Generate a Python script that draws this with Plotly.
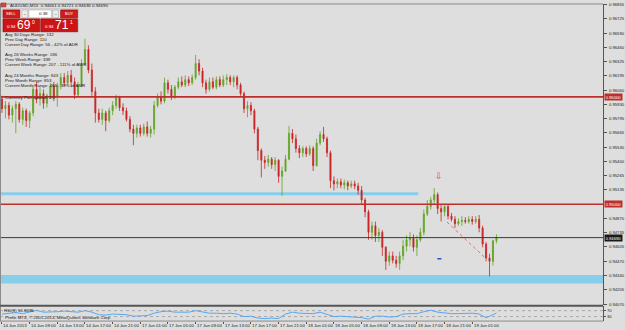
import plotly.graph_objects as go

W, H = 625, 330

# ---------------- data ----------------
time_labels = ["14 Jun 2013", "14 Jun 09:00", "14 Jun 13:00", "14 Jun 17:00", "14 Jun 21:00",
               "17 Jun 01:00", "17 Jun 05:00", "17 Jun 09:00", "17 Jun 13:00", "17 Jun 17:00",
               "17 Jun 21:00", "18 Jun 01:00", "18 Jun 05:00", "18 Jun 09:00", "18 Jun 13:00",
               "18 Jun 17:00", "18 Jun 21:00", "19 Jun 01:00"]
label_bars = [0, 8, 16, 24, 32, 40, 48, 56, 64, 72, 80, 88, 96, 104, 112, 120, 128, 136]

opens = [0.9598, 0.9589, 0.9592, 0.9583, 0.9589, 0.9593, 0.9579, 0.9587, 0.9578, 0.9585,
         0.9607, 0.9598, 0.9603, 0.9594, 0.9601, 0.9610, 0.9600, 0.9611, 0.9618, 0.9613,
         0.9620, 0.9614, 0.9602, 0.9611, 0.9631, 0.9644, 0.9625, 0.9605, 0.9585, 0.9579,
         0.9585, 0.9578, 0.9587, 0.9592, 0.9599, 0.9590, 0.9587, 0.9579, 0.9570, 0.9566,
         0.9571, 0.9566, 0.9572, 0.9566, 0.9570, 0.9592, 0.9600, 0.9596, 0.9613, 0.9607,
         0.9600, 0.9609, 0.9614, 0.9611, 0.9616, 0.9613, 0.9618, 0.9631, 0.9624, 0.9613,
         0.9607, 0.9614, 0.9609, 0.9616, 0.9611, 0.9616, 0.9618, 0.9614, 0.9618, 0.9611,
         0.9603, 0.9589, 0.9592, 0.9587, 0.9570, 0.9550, 0.9541, 0.9539, 0.9542, 0.9537,
         0.9541, 0.9526, 0.9531, 0.9542, 0.9566, 0.9561, 0.9552, 0.9548, 0.9552, 0.9547,
         0.9552, 0.9536, 0.9557, 0.9565, 0.9561, 0.9548, 0.9522, 0.9519, 0.9521, 0.9518,
         0.9520, 0.9517, 0.9519, 0.9517, 0.9513, 0.9504, 0.9493, 0.9474, 0.9480, 0.9471,
         0.9474, 0.9460, 0.9447, 0.9452, 0.9448, 0.9445, 0.9452, 0.9461, 0.9467, 0.9469,
         0.9460, 0.9467, 0.9474, 0.9491, 0.9498, 0.9504, 0.9509, 0.9496, 0.9493, 0.9498,
         0.9489, 0.9486, 0.9482, 0.9484, 0.9485, 0.9484, 0.9486, 0.9484, 0.9486, 0.9478,
         0.9463, 0.9450, 0.9447, 0.94661]
highs = [0.9601, 0.9596, 0.9595, 0.9592, 0.9596, 0.9595, 0.9590, 0.9589, 0.9587, 0.9611,
         0.9614, 0.9609, 0.9607, 0.9603, 0.9613, 0.9614, 0.9613, 0.9622, 0.9622, 0.9624,
         0.9625, 0.9618, 0.9614, 0.9635, 0.9654, 0.9648, 0.9631, 0.9609, 0.9589, 0.9589,
         0.9587, 0.9590, 0.9596, 0.9602, 0.9601, 0.9594, 0.9590, 0.9582, 0.9574, 0.9574,
         0.9574, 0.9575, 0.9577, 0.9573, 0.9596, 0.9603, 0.9605, 0.9618, 0.9616, 0.9611,
         0.9611, 0.9618, 0.9619, 0.9620, 0.9619, 0.9621, 0.9639, 0.9635, 0.9627, 0.9616,
         0.9618, 0.9618, 0.9619, 0.9619, 0.9620, 0.9621, 0.9620, 0.9620, 0.9620, 0.9613,
         0.9605, 0.9596, 0.9595, 0.9589, 0.9572, 0.9552, 0.9545, 0.9546, 0.9544, 0.9544,
         0.9542, 0.9535, 0.9546, 0.9573, 0.9570, 0.9565, 0.9555, 0.9554, 0.9554, 0.9555,
         0.9554, 0.9561, 0.9568, 0.9572, 0.9563, 0.9550, 0.9526, 0.9524, 0.9524, 0.9523,
         0.9522, 0.9522, 0.9522, 0.9520, 0.9517, 0.9506, 0.9495, 0.9484, 0.9484, 0.9478,
         0.9476, 0.9461, 0.9456, 0.9456, 0.9452, 0.9456, 0.9467, 0.9471, 0.9474, 0.9472,
         0.9471, 0.9478, 0.9495, 0.9504, 0.9507, 0.9515, 0.9511, 0.9500, 0.9500, 0.9500,
         0.9492, 0.9489, 0.9487, 0.9489, 0.9488, 0.9489, 0.9489, 0.9489, 0.9490, 0.9480,
         0.9465, 0.9454, 0.9467, 0.94721]
lows = [0.9585, 0.9580, 0.9579, 0.9576, 0.9566, 0.9576, 0.9574, 0.9572, 0.9571, 0.9582,
        0.9594, 0.9592, 0.9589, 0.9590, 0.9598, 0.9596, 0.9591, 0.9607, 0.9610, 0.9611,
        0.9609, 0.9598, 0.9600, 0.9609, 0.9629, 0.9622, 0.9601, 0.9576, 0.9576, 0.9574,
        0.9568, 0.9576, 0.9583, 0.9589, 0.9587, 0.9583, 0.9577, 0.9567, 0.9555, 0.9562,
        0.9563, 0.9564, 0.9563, 0.9562, 0.9565, 0.9590, 0.9593, 0.9594, 0.9603, 0.9597,
        0.9598, 0.9607, 0.9609, 0.9609, 0.9610, 0.9611, 0.9616, 0.9620, 0.9609, 0.9603,
        0.9605, 0.9607, 0.9607, 0.9609, 0.9609, 0.9611, 0.9611, 0.9609, 0.9607, 0.9601,
        0.9585, 0.9581, 0.9583, 0.9566, 0.9541, 0.9525, 0.9533, 0.9535, 0.9533, 0.9531,
        0.9520, 0.9508, 0.9530, 0.9541, 0.9557, 0.9548, 0.9543, 0.9544, 0.9544, 0.9545,
        0.9531, 0.9535, 0.9555, 0.9558, 0.9544, 0.9515, 0.9513, 0.9515, 0.9515, 0.9514,
        0.9513, 0.9515, 0.9514, 0.9509, 0.9500, 0.9488, 0.9467, 0.9467, 0.9465, 0.9465,
        0.9452, 0.9439, 0.9443, 0.9445, 0.9441, 0.9439, 0.9448, 0.9456, 0.9461, 0.9456,
        0.9452, 0.9465, 0.9471, 0.9489, 0.9495, 0.9500, 0.9491, 0.9484, 0.9489, 0.9486,
        0.9484, 0.9478, 0.9480, 0.9480, 0.9482, 0.9482, 0.9481, 0.9482, 0.9474, 0.9460,
        0.9447, 0.9433, 0.9443, 0.94636]
closes = [0.9589, 0.9592, 0.9583, 0.9589, 0.9593, 0.9579, 0.9587, 0.9578, 0.9585, 0.9607,
          0.9598, 0.9603, 0.9594, 0.9601, 0.9610, 0.9600, 0.9611, 0.9618, 0.9613, 0.9620,
          0.9614, 0.9602, 0.9611, 0.9631, 0.9644, 0.9625, 0.9605, 0.9585, 0.9579, 0.9585,
          0.9578, 0.9587, 0.9592, 0.9599, 0.9590, 0.9587, 0.9579, 0.9570, 0.9566, 0.9571,
          0.9566, 0.9572, 0.9566, 0.9570, 0.9592, 0.9600, 0.9596, 0.9613, 0.9607, 0.9600,
          0.9609, 0.9614, 0.9611, 0.9616, 0.9613, 0.9618, 0.9631, 0.9624, 0.9613, 0.9607,
          0.9614, 0.9609, 0.9616, 0.9611, 0.9616, 0.9618, 0.9614, 0.9618, 0.9611, 0.9603,
          0.9589, 0.9592, 0.9587, 0.9570, 0.9550, 0.9541, 0.9539, 0.9542, 0.9537, 0.9541,
          0.9526, 0.9531, 0.9542, 0.9566, 0.9561, 0.9552, 0.9548, 0.9552, 0.9547, 0.9552,
          0.9536, 0.9557, 0.9565, 0.9561, 0.9548, 0.9522, 0.9519, 0.9521, 0.9518, 0.9520,
          0.9517, 0.9519, 0.9517, 0.9513, 0.9504, 0.9493, 0.9474, 0.9480, 0.9471, 0.9474,
          0.9460, 0.9447, 0.9452, 0.9448, 0.9445, 0.9452, 0.9461, 0.9467, 0.9469, 0.9460,
          0.9467, 0.9474, 0.9491, 0.9498, 0.9504, 0.9509, 0.9496, 0.9493, 0.9498, 0.9489,
          0.9486, 0.9482, 0.9484, 0.9485, 0.9484, 0.9486, 0.9484, 0.9486, 0.9478, 0.9463,
          0.9450, 0.9447, 0.9466, 0.94690]

rsi_bars = [0, 2, 4, 6, 8, 10, 12, 14, 16, 18, 20, 22, 24, 26, 28, 30, 32, 34, 36, 38,
            40, 42, 44, 46, 48, 50, 52, 54, 56, 58, 60, 62, 64, 66, 68, 70, 72, 74, 76, 78,
            80, 82, 84, 86, 88, 90, 92, 94, 96, 98, 100, 102, 104, 106, 108, 110, 112, 114,
            116, 118, 120, 122, 124, 126, 128, 130, 132, 134, 136, 138, 140, 142, 143]
rsi_vals = [47, 53, 57, 50, 60, 72, 60, 60, 63, 67, 63, 60, 70, 60, 43, 40, 47, 47, 43, 33,
            33, 37, 53, 63, 67, 60, 60, 60, 70, 60, 53, 53, 50, 53, 47, 30, 33, 20, 17, 20,
            17, 47, 60, 53, 53, 50, 60, 47, 30, 33, 30, 30, 23, 13, 33, 33, 27, 30,
            47, 50, 50, 63, 73, 60, 53, 50, 50, 50, 53, 47, 23, 43, 53.8695]
rsi_levels = [70, 30]

price_ticks = [0.96855, 0.96725, 0.96590, 0.96460, 0.96325, 0.96195, 0.96060, 0.95930,
               0.95795, 0.95665, 0.95530, 0.95400, 0.95265, 0.95135, 0.94870, 0.94735,
               0.94605, 0.94470, 0.94340, 0.94205, 0.94070]

red_levels = [0.96000, 0.95000]
current_price = 0.94690
support_line_price = 0.95098
support_line_bars = [-0.6, 120.4]
support_band = [0.94264, 0.94342]
trend_bars = [128.7, 139.7]
trend_prices = [0.94835, 0.94503]
arrow_mark = (126.5, 0.95200)
dash_mark = (126.5, 0.94494)

header_text = "AUDUSD,M15  0.94661 0.94721 0.94636 0.94690"
info_lines = ["Avg 30 Days Range: 132", "Prev Day Range: 110", "Current Day Range: 56 - 42% of ADR",
              "Avg 26 Weeks Range: 186", "Prev Week Range: 339", "Current Week Range: 207 - 111% of AWR",
              "Avg 24 Months Range: 943", "Prev Month Range: 853", "Current Month Range: 466 - 49% of AMR",
              "Currency Pair spread: 2.0"]
info_y_px = [33, 38, 43, 53, 58, 63, 74, 79, 84, 96]

# ---------------- helpers ----------------
def px(p):
    return p / W

def py(p):
    return 1 - p / H

BG = "#DEDEDE"
FRAME = "#555555"
GREEN = "#62A324"
RED = "#C82424"
SKY = "#87CEEB"
FONT = "Liberation Sans"
TXT = "#202020"

x_range = [-0.575, 173.85]
y_range = [0.94061, 0.96864]

fig = go.Figure()

fig.add_trace(go.Candlestick(
    x=list(range(len(closes))), open=opens, high=highs, low=lows, close=closes,
    increasing=dict(line=dict(color=GREEN, width=0.8), fillcolor=GREEN),
    decreasing=dict(line=dict(color=RED, width=0.8), fillcolor=RED),
    whiskerwidth=0, xaxis="x", yaxis="y", showlegend=False, hoverinfo="skip"))

fig.add_trace(go.Scatter(x=trend_bars, y=trend_prices, mode="lines",
                         line=dict(color="#E36B6B", width=1, dash="dot"),
                         xaxis="x", yaxis="y", showlegend=False, hoverinfo="skip"))

fig.add_trace(go.Scatter(x=rsi_bars, y=rsi_vals, mode="lines",
                         line=dict(color="#55A8F5", width=1),
                         xaxis="x2", yaxis="y2", showlegend=False, hoverinfo="skip"))

shapes = []
# blue support band + line
shapes.append(dict(type="rect", xref="paper", yref="y", x0=0, x1=px(607),
                   y0=support_band[0], y1=support_band[1], fillcolor=SKY, line=dict(width=0),
                   layer="below"))
shapes.append(dict(type="line", xref="x", yref="y", x0=support_line_bars[0], x1=support_line_bars[1],
                   y0=support_line_price, y1=support_line_price, line=dict(color=SKY, width=3),
                   layer="below"))
for lv in red_levels:
    shapes.append(dict(type="line", xref="paper", yref="y", x0=0, x1=px(607), y0=lv, y1=lv,
                       line=dict(color="#BE2E2A", width=1.6)))
shapes.append(dict(type="line", xref="paper", yref="y", x0=0, x1=px(607), y0=current_price,
                   y1=current_price, line=dict(color="#3A3A3A", width=1)))
# blue dash mark
shapes.append(dict(type="line", xref="x", yref="y", x0=dash_mark[0] - 0.6, x1=dash_mark[0] + 0.6,
                   y0=dash_mark[1], y1=dash_mark[1], line=dict(color="#3050D0", width=1.5)))
# RSI levels
for lv in rsi_levels:
    shapes.append(dict(type="line", xref="paper", yref="y2", x0=0, x1=px(607), y0=lv, y1=lv,
                       line=dict(color="#A8A8A8", width=1, dash="dot"), layer="below"))
# frames
shapes.append(dict(type="line", xref="paper", yref="paper", x0=0, x1=px(607), y0=py(2), y1=py(2),
                   line=dict(color="#8A8A8A", width=1)))
shapes.append(dict(type="line", xref="paper", yref="paper", x0=px(0.5), x1=px(0.5), y0=py(2), y1=py(322),
                   line=dict(color="#8A8A8A", width=1)))
shapes.append(dict(type="line", xref="paper", yref="paper", x0=0, x1=px(607), y0=py(306.5), y1=py(306.5),
                   line=dict(color=FRAME, width=2)))
shapes.append(dict(type="line", xref="paper", yref="paper", x0=0, x1=px(607), y0=py(322), y1=py(322),
                   line=dict(color="#8A8A8A", width=1)))

# one-click trading panel
def box(x0, y0, x1, y1, fill, line="#8B0000"):
    shapes.append(dict(type="rect", xref="paper", yref="paper", x0=px(x0), x1=px(x1),
                       y0=py(y1), y1=py(y0), fillcolor=fill, line=dict(color=line, width=0.6)))

box(2, 7, 79, 30, "#F2F2F2", "#B0B0B0")
box(3, 8, 20, 16, "#D21A1A")
box(22, 8, 28, 16, "#ECECEC", "#A0A0A0")
box(29, 8, 52, 16, "#FFFFFF", "#A0A0A0")
box(53, 8, 59, 16, "#ECECEC", "#A0A0A0")
box(61, 8, 78, 16, "#D21A1A")
box(3, 17, 40, 30, "#CC1515")
box(41, 17, 78, 30, "#CC1515")
# header icon
box(1, 1, 6, 5, "#E04040", "#A03030")

ann = []
def text(x, y, s, size=4.4, color=TXT, anchor="left", **kw):
    ann.append(dict(x=px(x), y=py(y), xref="paper", yref="paper", text=s, showarrow=False,
                    xanchor=anchor, yanchor="middle", font=dict(family=FONT, size=size, color=color), **kw))

text(8, 3.5, header_text, 4.4)
for s, yy in zip(info_lines, info_y_px):
    text(3, yy, s, 4.4)
text(11.5, 12, "SELL", 4, "white", "center")
text(25, 12, "-", 5, TXT, "center")
text(44, 12, "0.38", 4.4, TXT, "center")
text(56, 12, "-", 5, TXT, "center")
text(69.5, 12, "BUY", 4, "white", "center")
text(5, 25, "0.94", 4.4, "white")
text(24, 23.5, "69", 12, "white", "center")
text(33.5, 20, "0", 5, "white", "center")
text(43, 25, "0.94", 4.4, "white")
text(62, 23.5, "71", 12, "white", "center")
text(71.5, 20, "1", 5, "white", "center")

text(2, 311, "RSI(9) 53.8695", 4.4)
text(3, 318, "Prime MT4, \u00a9 2001-2013, MetaQuotes Software Corp.", 4.4)

# right axis value boxes
for lv, bg in [(red_levels[0], "#BE2E2A"), (red_levels[1], "#BE2E2A"), (current_price, "#1A1A1A")]:
    ann.append(dict(x=px(607.5), y=lv, xref="paper", yref="y", text=f"{lv:.5f}", showarrow=False,
                    xanchor="left", yanchor="middle", bgcolor=bg, width=16, height=5, borderpad=0.5,
                    align="left", font=dict(family=FONT, size=4.2, color="white")))

# down arrow signal
ann.append(dict(x=arrow_mark[0], y=arrow_mark[1], xref="x", yref="y", text="\u21e9", showarrow=False,
                xanchor="center", yanchor="bottom", font=dict(family="DejaVu Sans", size=9, color="#E04848")))

# time labels
for b, s in zip(label_bars, time_labels):
    ann.append(dict(x=b, y=py(326.5), xref="x2", yref="paper", text=s, showarrow=False,
                    xanchor="left", yanchor="middle", xshift=-0.5,
                    font=dict(family=FONT, size=4.3, color=TXT)))

fig.update_layout(
    width=W, height=H, margin=dict(l=0, r=0, t=0, b=0),
    paper_bgcolor=BG, plot_bgcolor=BG, showlegend=False,
    shapes=shapes, annotations=ann, boxgap=0.55,
    xaxis=dict(domain=[0, px(607)], range=x_range, anchor="y", showgrid=False, zeroline=False,
               showticklabels=False, ticks="", showline=False, rangeslider=dict(visible=False),
               fixedrange=True),
    yaxis=dict(domain=[py(306), py(2)], range=y_range, anchor="x", side="right", showgrid=False,
               zeroline=False, showline=True, linecolor=FRAME, linewidth=1, ticks="outside",
               ticklen=3, tickwidth=1, tickcolor=FRAME, tickvals=price_ticks,
               ticktext=[f"{v:.5f}" for v in price_ticks], ticklabelstandoff=1,
               tickfont=dict(family=FONT, size=4.2, color=TXT)),
    xaxis2=dict(domain=[0, px(607)], range=x_range, anchor="y2", showgrid=False, zeroline=False,
                showticklabels=False, ticks="outside", ticklen=2, tickcolor=FRAME,
                tickvals=label_bars, showline=False),
    yaxis2=dict(domain=[py(322), py(307)], range=[0, 100], anchor="x2", side="right",
                showgrid=False, zeroline=False, showline=True, linecolor=FRAME, linewidth=1,
                ticks="outside", ticklen=2, tickcolor=FRAME, tickvals=rsi_levels,
                ticktext=[str(v) for v in rsi_levels],
                tickfont=dict(family=FONT, size=4.2, color=TXT)),
)

fig.write_html("out.html")
